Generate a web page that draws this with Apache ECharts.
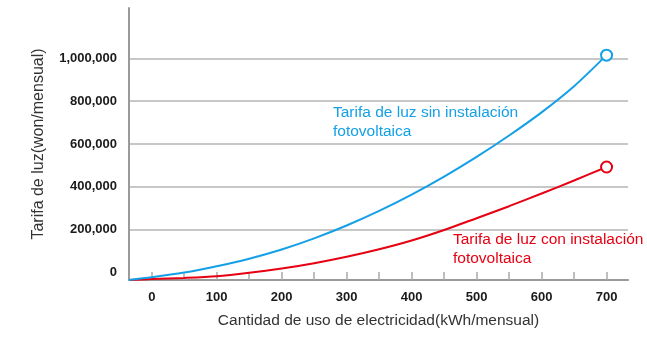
<!DOCTYPE html>
<html>
<head>
<meta charset="utf-8">
<script src="https://cdn.jsdelivr.net/npm/echarts@6/dist/echarts.min.js"></script>
<style>
html,body{margin:0;padding:0;background:#fff;}
#chart{width:647px;height:339px;}
</style>
</head>
<body>
<div id="chart"></div>
<script>
// kWh/month sample positions
const usage = [-35, 0, 50, 100, 150, 200, 250, 300, 350, 400, 450, 500, 550, 600, 650, 700];
// Tariff without solar installation (won/month)
const tariffWithout = [-34000, -22000, 0, 30000, 65000, 108000, 160000, 220000, 288000, 364000, 448000, 540000, 640000, 748000, 870000, 1015000];
// Tariff with solar installation (won/month)
const tariffWith = [-34000, -30000, -25000, -17000, -1000, 19000, 44000, 74000, 109000, 150000, 199000, 254000, 310000, 369000, 430000, 493000];

const xTicks = [0, 50, 100, 150, 200, 250, 300, 350, 400, 450, 500, 550, 600, 650, 700];
const xLabels = [0, 100, 200, 300, 400, 500, 600, 700];
const yLabels = [0, 200000, 400000, 600000, 800000, 1000000];
const yGrid = [200000, 400000, 600000, 800000, 1000000];

const blueName = 'Tarifa de luz sin instalación\nfotovoltaica';
const redName = 'Tarifa de luz con instalación\nfotovoltaica';
const xName = 'Cantidad de uso de electricidad(kWh/mensual)';
const yName = 'Tarifa de luz(won/mensual)';

const BLUE = '#14a0e6';
const RED = '#e60012';
const FONT = '"Liberation Sans", Arial, sans-serif';

function pairs(xs, ys) { return xs.map((x, i) => [x, ys[i]]); }
const last = usage.length - 1;

const chart = echarts.init(document.getElementById('chart'), null, {renderer: 'canvas'});
chart.setOption({
  animation: false,
  backgroundColor: '#fff',
  grid: {left: 129, right: 19, top: 8, bottom: 59, containLabel: false},
  xAxis: {
    type: 'value', min: -35, max: 733,
    name: xName, nameLocation: 'middle', nameGap: 33,
    nameTextStyle: {fontFamily: FONT, fontSize: 15.5, color: '#333'},
    axisLine: {show: true, onZero: false, lineStyle: {color: '#9a9a9a', width: 2}},
    axisTick: {show: true, inside: true, length: 8, customValues: xTicks, lineStyle: {color: '#aaa', width: 1.5}},
    axisLabel: {customValues: xLabels, margin: 11, fontFamily: FONT, fontSize: 13, fontWeight: 'bold', color: '#1a1a1a'},
    splitLine: {show: false}
  },
  yAxis: {
    type: 'value', min: -34500, max: 1235000,
    name: yName, nameLocation: 'middle', nameGap: 82,
    nameTextStyle: {fontFamily: FONT, fontSize: 16, color: '#333'},
    axisLine: {show: true, onZero: false, lineStyle: {color: '#9a9a9a', width: 2}},
    axisTick: {show: false, customValues: yGrid},
    axisLabel: {customValues: yLabels, margin: 12, fontFamily: FONT, fontSize: 13, fontWeight: 'bold', color: '#1a1a1a',
      formatter: v => Number(v).toLocaleString('en-US')},
    splitLine: {show: true, lineStyle: {color: '#b4b4b4', width: 1.5}}
  },
  series: [
    {
      type: 'line', name: 'sin', smooth: 0.3, clip: false,
      data: pairs(usage, tariffWithout),
      symbol: 'emptyCircle',
      symbolSize: (v, p) => p.dataIndex === last ? 11 : 0,
      showSymbol: true,
      lineStyle: {color: BLUE, width: 2},
      itemStyle: {color: BLUE, borderWidth: 2},
      z: 3
    },
    {
      type: 'line', name: 'con', smooth: 0.3, clip: false,
      data: pairs(usage, tariffWith),
      symbol: 'emptyCircle',
      symbolSize: (v, p) => p.dataIndex === last ? 11 : 0,
      showSymbol: true,
      lineStyle: {color: RED, width: 2},
      itemStyle: {color: RED, borderWidth: 2},
      z: 2
    }
  ],
  graphic: [
    {type: 'text', left: 333, top: 103, style: {text: blueName, font: '15.5px ' + FONT, fill: BLUE, lineHeight: 19}},
    {type: 'text', left: 453, top: 230, style: {text: redName, font: '15.5px ' + FONT, fill: RED, lineHeight: 19}}
  ]
});
</script>
</body>
</html>
